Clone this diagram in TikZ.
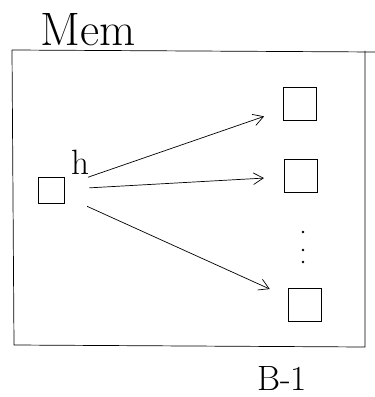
\documentclass[tikz,border=0pt]{standalone}
\usepackage{tikz}
\usetikzlibrary{positioning, arrows.meta}

\begin{document}
\begin{tikzpicture}[
  x=0.03cm, y=-0.03cm,
  line width=0.6pt,
  cell/.style={draw, minimum width=1cm, minimum height=1cm, inner sep=0pt},
  ptr/.style={-{Straight Barb[length=3mm, width=3.5mm]}, shorten <=0.75cm, shorten >=0.6cm},
  hand/.style={font=\fontsize{30}{30}\selectfont}
]
\useasboundingbox (0,0) rectangle (375,397);

% -------------------------
% Memory frame
% -------------------------

\node[font=\fontsize{40}{40}\selectfont] (mem) at (88,30) {Mem};
\draw (12,50) -- (375,52);
\draw (12,50) -- (14,345) -- (365,347) -- (365,51);

% -------------------------
% Cells
% -------------------------

\node[cell, minimum width=0.78cm, minimum height=0.78cm] (h) at (51,190) {};
\node[hand] (hlab) at (80,162) {h};

\node[cell] (b1) at (300,104) {};
\node[cell] (b2) at (301,176) {};
\node[cell] (b3) at (305,305) {};

% vertical dots between cells
\foreach \y in {232,250,262}
  \fill (303,\y) circle (1.2pt);

% -------------------------
% Pointers
% -------------------------

\draw[ptr] (h) -- (b1);
\draw[ptr] (h) -- (b2);
\draw[ptr] (h) -- (b3);

\node[hand] (blen) at (282,378) {B-1};

\end{tikzpicture}
\end{document}
